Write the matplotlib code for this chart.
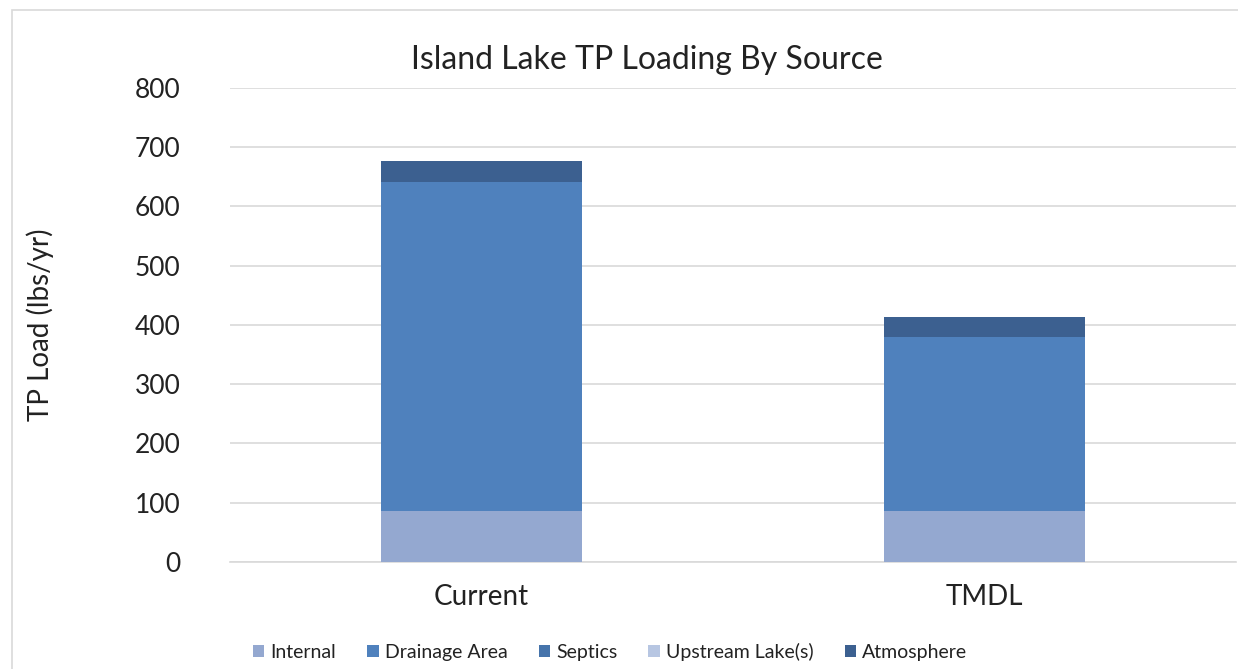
import matplotlib.pyplot as plt
from matplotlib.patches import Rectangle

plt.rcParams['font.family'] = ['Lato', 'DejaVu Sans']

scenarios = ['Current', 'TMDL']
sources = ['Internal', 'Drainage Area', 'Septics', 'Upstream Lake(s)', 'Atmosphere']

# TP load in lbs/yr for each source, Current then TMDL
internal = [86, 86]
drainage_area = [555, 294]
septics = [0, 0]
upstream_lakes = [0, 0]
atmosphere = [36, 34]

colors = ['#94a8d0', '#4f81bd', '#4674ab', '#b7c6e2', '#3c6090']

fig = plt.figure(figsize=(12.38, 6.69), dpi=100)
ax = fig.add_axes([0.186, 0.160, 0.812, 0.7085])

# thin frame around the chart area
fig.patches.append(Rectangle((12 / 1238, -0.1), 1.2, 1.1 - 10 / 669,
                             transform=fig.transFigure, fill=False,
                             edgecolor='#d9d9d9', linewidth=1.2))

x = [0, 1]
bottom = [0, 0]
for name, vals, c in zip(sources,
                         [internal, drainage_area, septics, upstream_lakes, atmosphere],
                         colors):
    ax.bar(x, vals, width=0.4, bottom=bottom, color=c, label=name, zorder=3)
    bottom = [b + v for b, v in zip(bottom, vals)]

ax.set_xlim(-0.5, 1.5)
ax.set_ylim(0, 800)
ax.set_yticks(range(0, 801, 100))
ax.grid(axis='y', color='#d9d9d9', linewidth=1.2, zorder=0)
ax.set_xticks(x)
ax.set_xticklabels(scenarios, fontsize=20, color='#222222')
ax.tick_params(axis='y', labelsize=19, labelcolor='#222222', length=0, pad=36)
ax.tick_params(axis='x', length=0, pad=16)
for side in ['top', 'right', 'left']:
    ax.spines[side].set_visible(False)
ax.spines['bottom'].set_color('#d9d9d9')
ax.spines['bottom'].set_linewidth(1.2)

fig.text(647 / 1238, 1 - 60 / 669, 'Island Lake TP Loading By Source',
         fontsize=23, color='#222222', ha='center', va='center')
fig.text(40 / 1238, 1 - 325 / 669, 'TP Load (lbs/yr)', rotation=90,
         fontsize=20, color='#222222', ha='center', va='center')

fig.legend(loc='center', bbox_to_anchor=(610 / 1238, 1 - 652 / 669), ncol=5,
           frameon=False, fontsize=14, handlelength=0.6, handleheight=0.6,
           handletextpad=0.3, columnspacing=1.6, labelcolor='#222222')

fig.savefig('out.png', dpi=100, facecolor='white')
